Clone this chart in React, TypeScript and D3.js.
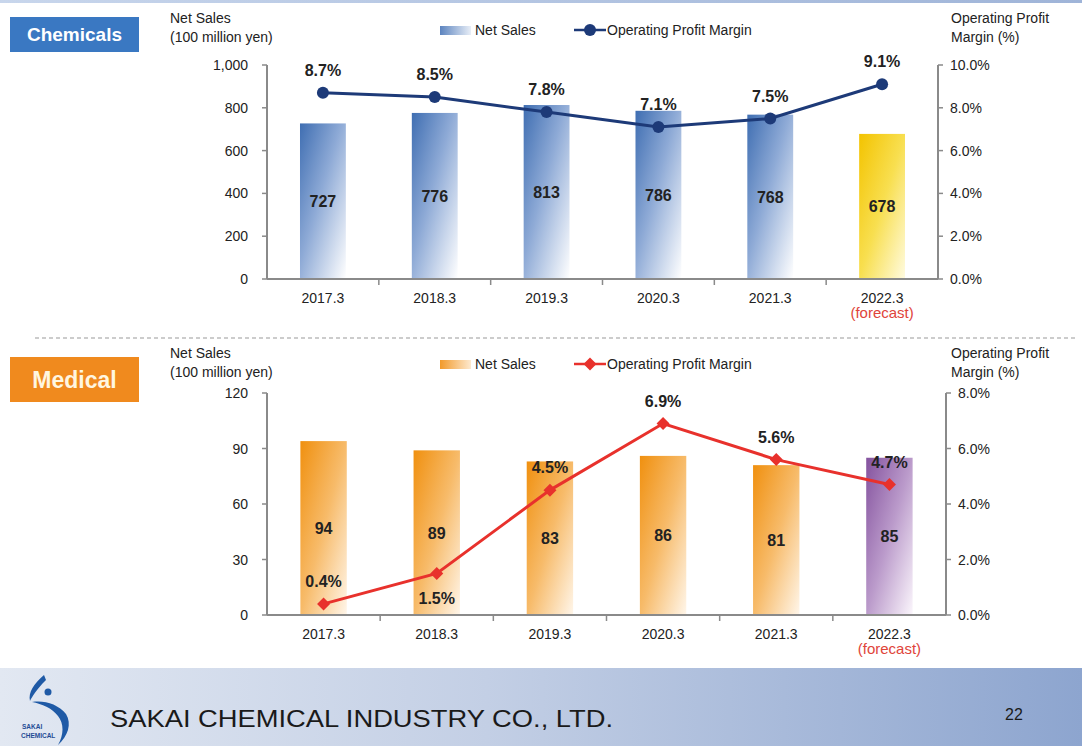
import React from "react";
import * as d3 from "d3";

const years = ["2017.3", "2018.3", "2019.3", "2020.3", "2021.3", "2022.3"];
const chemSales = [727, 776, 813, 786, 768, 678];
const chemMargin = [8.7, 8.5, 7.8, 7.1, 7.5, 9.1];
const medSales = [94, 89, 83, 86, 81, 85];
const medMargin = [0.4, 1.5, 4.5, 6.9, 5.6, 4.7];
const chemSalesTicks = [0, 200, 400, 600, 800, 1000];
const chemMarginTicks = [0, 2, 4, 6, 8, 10];
const medSalesTicks = [0, 30, 60, 90, 120];
const medMarginTicks = [0, 2, 4, 6, 8];

const FONT = "'Liberation Sans', Arial, sans-serif";

type PanelProps = {
  id: string;
  x0: number;
  x1: number;
  yTop: number;
  yBase: number;
  sales: number[];
  margin: number[];
  salesMax: number;
  marginMax: number;
  salesTicks: number[];
  marginTicks: number[];
  salesFmt: (v: number) => string;
  barGrad: string;
  fcGrad: string;
  lineColor: string;
  marker: "circle" | "diamond";
  below: boolean[];
  label: string;
  labelColor: string;
  labelFill: string;
  labelBox: [number, number, number, number];
  labelSize: number;
  titleY: number;
  legendY: number;
  legendSwatch: string;
  forecastY: number;
};

function Marker({ kind, x, y, color }: { kind: string; x: number; y: number; color: string }) {
  if (kind === "circle") return <circle cx={x} cy={y} r={6} fill={color} />;
  const s = 6.5;
  return <path d={`M${x},${y - s}L${x + s},${y}L${x},${y + s}L${x - s},${y}Z`} fill={color} />;
}

function Panel(p: PanelProps) {
  const x = d3.scaleBand<string>().domain(years).range([p.x0, p.x1]).paddingInner(0).paddingOuter(0);
  const bw = x.bandwidth();
  const barW = bw * 0.41;
  const y = d3.scaleLinear().domain([0, p.salesMax]).range([p.yBase, p.yTop]);
  const y2 = d3.scaleLinear().domain([0, p.marginMax]).range([p.yBase, p.yTop]);
  const cx = (yr: string) => (x(yr) as number) + bw / 2;
  const line = d3
    .line<number>()
    .x((_, i) => cx(years[i]))
    .y((d) => y2(d));
  const axisColor = "#8a8a8a";
  const [bx, by, bwid, bh] = p.labelBox;
  return (
    <g>
      <rect x={bx} y={by} width={bwid} height={bh} fill={p.labelFill} />
      <text
        x={bx + bwid / 2}
        y={by + bh / 2 + p.labelSize * 0.36}
        textAnchor="middle"
        fontFamily={FONT}
        fontWeight="bold"
        fontSize={p.labelSize}
        fill={p.labelColor}
      >
        {p.label}
      </text>
      <text x={170} y={p.titleY} fontFamily={FONT} fontSize={14} fill="#222">
        Net Sales
      </text>
      <text x={170} y={p.titleY + 19} fontFamily={FONT} fontSize={14} fill="#222">
        (100 million yen)
      </text>
      <text x={951} y={p.titleY} fontFamily={FONT} fontSize={14} fill="#222">
        Operating Profit
      </text>
      <text x={951} y={p.titleY + 19} fontFamily={FONT} fontSize={14} fill="#222">
        Margin (%)
      </text>
      <rect x={440} y={p.legendY - 4} width={31} height={9} fill={`url(#${p.legendSwatch})`} />
      <text x={475} y={p.legendY + 5} fontFamily={FONT} fontSize={14} fill="#222">
        Net Sales
      </text>
      <line x1={574} x2={606} y1={p.legendY} y2={p.legendY} stroke={p.lineColor} strokeWidth={2.5} />
      <Marker kind={p.marker} x={590} y={p.legendY} color={p.lineColor} />
      <text x={607} y={p.legendY + 5} fontFamily={FONT} fontSize={14} fill="#222">
        Operating Profit Margin
      </text>
      {p.sales.map((v, i) => (
        <rect
          key={"b" + i}
          x={cx(years[i]) - barW / 2}
          y={y(v)}
          width={barW}
          height={p.yBase - y(v)}
          fill={`url(#${i === years.length - 1 ? p.fcGrad : p.barGrad})`}
        />
      ))}
      {p.sales.map((v, i) => (
        <text
          key={"bl" + i}
          x={cx(years[i])}
          y={(y(v) + p.yBase) / 2 + 6}
          textAnchor="middle"
          fontFamily={FONT}
          fontWeight="bold"
          fontSize={16}
          fill="#222"
        >
          {p.salesFmt(v)}
        </text>
      ))}
      <line x1={p.x0} x2={p.x0} y1={p.yTop} y2={p.yBase} stroke={axisColor} strokeWidth={2} />
      <line x1={p.x1} x2={p.x1} y1={p.yTop} y2={p.yBase} stroke={axisColor} strokeWidth={2} />
      <line x1={p.x0} x2={p.x1} y1={p.yBase} y2={p.yBase} stroke={axisColor} strokeWidth={2} />
      {p.salesTicks.map((t) => (
        <g key={"lt" + t}>
          <line x1={p.x0 - 5} x2={p.x0} y1={y(t)} y2={y(t)} stroke={axisColor} strokeWidth={1.5} />
          <text x={p.x0 - 19} y={y(t) + 5} textAnchor="end" fontFamily={FONT} fontSize={14} fill="#222">
            {p.salesFmt(t)}
          </text>
        </g>
      ))}
      {p.marginTicks.map((t) => (
        <g key={"rt" + t}>
          <line x1={p.x1} x2={p.x1 + 5} y1={y2(t)} y2={y2(t)} stroke={axisColor} strokeWidth={1.5} />
          <text x={p.x1 + 12} y={y2(t) + 5} fontFamily={FONT} fontSize={14} fill="#222">
            {d3.format(".1f")(t)}%
          </text>
        </g>
      ))}
      {years.slice(1).map((yr) => (
        <line
          key={"xt" + yr}
          x1={x(yr) as number}
          x2={x(yr) as number}
          y1={p.yBase}
          y2={p.yBase + 6}
          stroke={axisColor}
          strokeWidth={1.5}
        />
      ))}
      {years.map((yr) => (
        <text
          key={"xl" + yr}
          x={cx(yr)}
          y={p.yBase + 24}
          textAnchor="middle"
          fontFamily={FONT}
          fontSize={14}
          fill="#222"
        >
          {yr}
        </text>
      ))}
      <text
        x={cx(years[years.length - 1])}
        y={p.forecastY}
        textAnchor="middle"
        fontFamily={FONT}
        fontSize={15}
        fill="#e0443a"
      >
        (forecast)
      </text>
      <path d={line(p.margin) || ""} fill="none" stroke={p.lineColor} strokeWidth={3} />
      {p.margin.map((v, i) => (
        <Marker key={"m" + i} kind={p.marker} x={cx(years[i])} y={y2(v)} color={p.lineColor} />
      ))}
      {p.margin.map((v, i) => (
        <text
          key={"ml" + i}
          x={cx(years[i])}
          y={y2(v) + (p.below[i] ? 31 : -17)}
          textAnchor="middle"
          fontFamily={FONT}
          fontWeight="bold"
          fontSize={16}
          fill="#222"
        >
          {d3.format(".1f")(v)}%
        </text>
      ))}
    </g>
  );
}

export default function App() {
  return (
    <svg
      width={1082}
      height={746}
      viewBox="0 0 1082 746"
      style={{ position: "absolute", left: 0, top: 0, background: "#fff" }}
    >
      <defs>
        <linearGradient id="gBlue" x1="0" y1="0" x2="1" y2="1">
          <stop offset="0%" stopColor="#3f6eb2" />
          <stop offset="45%" stopColor="#8eaad6" />
          <stop offset="100%" stopColor="#ffffff" />
        </linearGradient>
        <linearGradient id="gYellow" x1="0" y1="0" x2="1" y2="1">
          <stop offset="0%" stopColor="#f3c300" />
          <stop offset="50%" stopColor="#f8df50" />
          <stop offset="100%" stopColor="#fffbe0" />
        </linearGradient>
        <linearGradient id="gOrange" x1="0" y1="0" x2="1" y2="1">
          <stop offset="0%" stopColor="#f0900f" />
          <stop offset="50%" stopColor="#f7bb6a" />
          <stop offset="100%" stopColor="#fff6ea" />
        </linearGradient>
        <linearGradient id="gPurple" x1="0" y1="0" x2="1" y2="1">
          <stop offset="0%" stopColor="#84529e" />
          <stop offset="50%" stopColor="#bb9bcb" />
          <stop offset="100%" stopColor="#fbf6fc" />
        </linearGradient>
        <linearGradient id="gLegBlue" x1="0" y1="0" x2="1" y2="0">
          <stop offset="0%" stopColor="#5c84bf" />
          <stop offset="100%" stopColor="#e8eef7" />
        </linearGradient>
        <linearGradient id="gLegOrange" x1="0" y1="0" x2="1" y2="0">
          <stop offset="0%" stopColor="#f29a2a" />
          <stop offset="100%" stopColor="#fde9cf" />
        </linearGradient>
        <linearGradient id="gFooter" x1="0" y1="0" x2="1" y2="0">
          <stop offset="0%" stopColor="#e2e8f2" />
          <stop offset="45%" stopColor="#c3cfe5" />
          <stop offset="100%" stopColor="#8da5cf" />
        </linearGradient>
        <linearGradient id="gTop" x1="0" y1="0" x2="1" y2="0">
          <stop offset="0%" stopColor="#c8d6ec" />
          <stop offset="100%" stopColor="#9fb4d8" />
        </linearGradient>
      </defs>
      <rect x={0} y={0} width={1082} height={746} fill="#ffffff" />
      <rect x={0} y={0} width={1082} height={3} fill="url(#gTop)" />
      <Panel
        id="chem"
        x0={267}
        x1={938}
        yTop={65}
        yBase={279}
        sales={chemSales}
        margin={chemMargin}
        salesMax={1000}
        marginMax={10}
        salesTicks={chemSalesTicks}
        marginTicks={chemMarginTicks}
        salesFmt={d3.format(",")}
        barGrad="gBlue"
        fcGrad="gYellow"
        lineColor="#1d3a78"
        marker="circle"
        below={[false, false, false, false, false, false]}
        label="Chemicals"
        labelColor="#ffffff"
        labelFill="#3a78c2"
        labelBox={[10, 17, 129, 35]}
        labelSize={19}
        titleY={23}
        legendY={30}
        legendSwatch="gLegBlue"
        forecastY={318}
      />
      <line x1={35} x2={1078} y1={338} y2={338} stroke="#9a9a9a" strokeWidth={1.2} strokeDasharray="4 3" />
      <Panel
        id="med"
        x0={267}
        x1={946}
        yTop={393}
        yBase={615}
        sales={medSales}
        margin={medMargin}
        salesMax={120}
        marginMax={8}
        salesTicks={medSalesTicks}
        marginTicks={medMarginTicks}
        salesFmt={d3.format("d")}
        barGrad="gOrange"
        fcGrad="gPurple"
        lineColor="#e8312c"
        marker="diamond"
        below={[false, true, false, false, false, false]}
        label="Medical"
        labelColor="#fff6e0"
        labelFill="#f08a1e"
        labelBox={[10, 357, 129, 45]}
        labelSize={23}
        titleY={358}
        legendY={364}
        legendSwatch="gLegOrange"
        forecastY={654}
      />
      <rect x={0} y={668} width={1082} height={78} fill="url(#gFooter)" />
      <g fill="#1f5aa6">
        <path d="M44,675 C34,684 28,692 30,701 C32,697 36,690 46,680 Z" />
        <circle cx={48} cy={692} r={3.5} />
        <path d="M32,702 C44,700 58,704 66,714 C72,724 68,736 58,745 C64,734 64,724 58,716 C52,708 42,704 32,702 Z" />
        <text x={22} y={729} fontFamily={FONT} fontSize={6.5} fontWeight="bold" fill="#1f4c95">
          SAKAI
        </text>
        <text x={21} y={738} fontFamily={FONT} fontSize={6.5} fontWeight="bold" fill="#1f4c95">
          CHEMICAL
        </text>
      </g>
      <text x={110} y={727} fontFamily={FONT} fontSize={24} fill="#1a1a1a" textLength={503} lengthAdjust="spacingAndGlyphs">
        SAKAI CHEMICAL INDUSTRY CO., LTD.
      </text>
      <text x={1005} y={720} fontFamily={FONT} fontSize={16} fill="#1a1a1a">
        22
      </text>
    </svg>
  );
}
